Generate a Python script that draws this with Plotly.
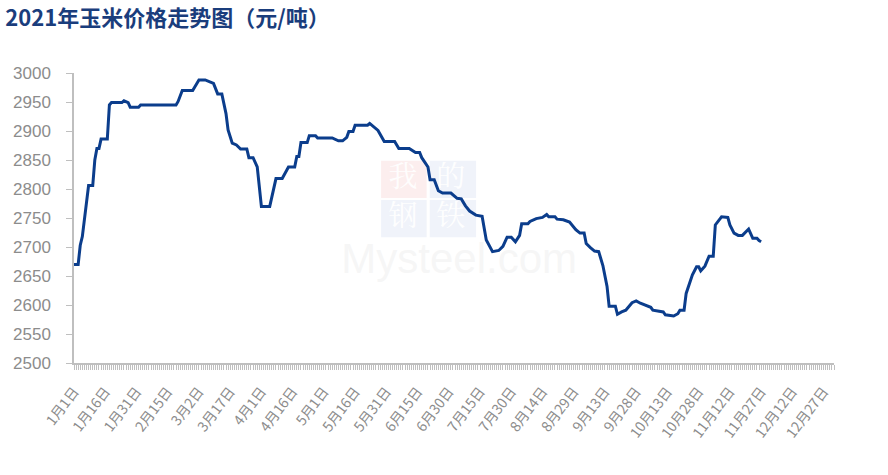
import plotly.graph_objects as go
from datetime import date, timedelta

# ---- data ----
dates = [
    "2021-01-01", "2021-01-03", "2021-01-04", "2021-01-05", "2021-01-08", "2021-01-10",
    "2021-01-11", "2021-01-12", "2021-01-13", "2021-01-14", "2021-01-17", "2021-01-18",
    "2021-01-19", "2021-01-24", "2021-01-25", "2021-01-27", "2021-01-28", "2021-02-01",
    "2021-02-02", "2021-02-19", "2021-02-20", "2021-02-22", "2021-02-27", "2021-03-01",
    "2021-03-02", "2021-03-05", "2021-03-09", "2021-03-11", "2021-03-13", "2021-03-15",
    "2021-03-16", "2021-03-18", "2021-03-20", "2021-03-22", "2021-03-25", "2021-03-26",
    "2021-03-28", "2021-03-30", "2021-03-31", "2021-04-01", "2021-04-05", "2021-04-06",
    "2021-04-08", "2021-04-11", "2021-04-13", "2021-04-14", "2021-04-17", "2021-04-18",
    "2021-04-19", "2021-04-20", "2021-04-23", "2021-04-24", "2021-04-27", "2021-04-28",
    "2021-05-05", "2021-05-08", "2021-05-10", "2021-05-12", "2021-05-13", "2021-05-15",
    "2021-05-16", "2021-05-22", "2021-05-23", "2021-05-26", "2021-05-27", "2021-05-30",
    "2021-06-04", "2021-06-06", "2021-06-11", "2021-06-14", "2021-06-16", "2021-06-17",
    "2021-06-20", "2021-06-21", "2021-06-23", "2021-06-25", "2021-06-27", "2021-07-01",
    "2021-07-04", "2021-07-06", "2021-07-08", "2021-07-10", "2021-07-13", "2021-07-16",
    "2021-07-18", "2021-07-21", "2021-07-24", "2021-07-26", "2021-07-28", "2021-07-30",
    "2021-08-01", "2021-08-03", "2021-08-04", "2021-08-07", "2021-08-08", "2021-08-11",
    "2021-08-14", "2021-08-16", "2021-08-17", "2021-08-20", "2021-08-21", "2021-08-24",
    "2021-08-26", "2021-08-27", "2021-08-30", "2021-09-01", "2021-09-03", "2021-09-04",
    "2021-09-06", "2021-09-08", "2021-09-10", "2021-09-12", "2021-09-14", "2021-09-15",
    "2021-09-18", "2021-09-19", "2021-09-21", "2021-09-23", "2021-09-26", "2021-09-28",
    "2021-09-30", "2021-10-03", "2021-10-05", "2021-10-06", "2021-10-09", "2021-10-11",
    "2021-10-12", "2021-10-16", "2021-10-18", "2021-10-19", "2021-10-21", "2021-10-22",
    "2021-10-25", "2021-10-27", "2021-10-28", "2021-10-29", "2021-10-31", "2021-11-02",
    "2021-11-04", "2021-11-05", "2021-11-08", "2021-11-11", "2021-11-12", "2021-11-14",
    "2021-11-16", "2021-11-18", "2021-11-21", "2021-11-23", "2021-11-25", "2021-11-26",
    "2021-11-27",
]
prices = [
    2670, 2670, 2703, 2718, 2806, 2806,
    2850, 2870, 2870, 2886, 2886, 2945,
    2949, 2949, 2952, 2949, 2941, 2941,
    2945, 2945, 2951, 2970, 2970, 2982,
    2988, 2988, 2982, 2964, 2964, 2930,
    2902, 2879, 2876, 2869, 2869, 2854,
    2854, 2838, 2807, 2770, 2770, 2787,
    2818, 2818, 2830, 2838, 2838, 2856,
    2856, 2880, 2880, 2892, 2892, 2888,
    2888, 2883, 2883, 2889, 2899, 2899,
    2910, 2910, 2913, 2903, 2901, 2882,
    2882, 2870, 2870, 2863, 2863, 2854,
    2838, 2816, 2816, 2797, 2793, 2793,
    2784, 2783, 2771, 2762, 2755, 2753,
    2712, 2692, 2694, 2701, 2717, 2717,
    2709, 2720, 2740, 2740, 2744, 2749,
    2751, 2756, 2752, 2752, 2748, 2747,
    2744, 2743, 2730, 2724, 2724, 2706,
    2699, 2693, 2692, 2668, 2632, 2598,
    2598, 2584, 2588, 2591, 2604, 2607,
    2603, 2598, 2596, 2591, 2589, 2588,
    2583, 2581, 2585, 2591, 2591, 2620,
    2652, 2666, 2666, 2659, 2667, 2684,
    2684, 2738, 2752, 2751, 2738, 2724,
    2720, 2720, 2731, 2715, 2715, 2711,
    2709,
]
tick_dates = [
    "2021-01-01", "2021-01-16", "2021-01-31", "2021-02-15", "2021-03-02", "2021-03-17",
    "2021-04-01", "2021-04-16", "2021-05-01", "2021-05-16", "2021-05-31", "2021-06-15",
    "2021-06-30", "2021-07-15", "2021-07-30", "2021-08-14", "2021-08-29", "2021-09-13",
    "2021-09-28", "2021-10-13", "2021-10-28", "2021-11-12", "2021-11-27", "2021-12-12",
    "2021-12-27",
]
tick_labels = [
    "1月1日", "1月16日", "1月31日", "2月15日", "3月2日", "3月17日",
    "4月1日", "4月16日", "5月1日", "5月16日", "5月31日", "6月15日",
    "6月30日", "7月15日", "7月30日", "8月14日", "8月29日", "9月13日",
    "9月28日", "10月13日", "10月28日", "11月12日", "11月27日", "12月12日",
    "12月27日",
]
y_ticks = [2500, 2550, 2600, 2650, 2700, 2750, 2800, 2850, 2900, 2950, 3000]
title_text = "2021年玉米价格走势图（元/吨）"

X_START, X_END = "2021-01-01", "2022-01-01"
Y_MIN, Y_MAX = 2500, 3000

AXIS_GREY = "#bfbfbf"
TEXT_GREY = "#8c8c8c"
LINE_BLUE = "#0b3d8c"

fig = go.Figure()

# ---- faint watermark (drawn beneath the data line) ----
d0 = date(2021, 1, 1)
def px_pos(fx, fy):
    d = d0 + timedelta(days=fx * 365)
    return d.isoformat() + "T00:00:00", Y_MIN + fy * (Y_MAX - Y_MIN)

boxes = [
    (0.404, 0.464, 0.569, 0.697, "rgba(245,200,200,0.30)", "我"),
    (0.468, 0.529, 0.569, 0.697, "rgba(205,215,238,0.30)", "的"),
    (0.404, 0.464, 0.434, 0.562, "rgba(205,215,238,0.30)", "钢"),
    (0.468, 0.529, 0.434, 0.562, "rgba(205,215,238,0.30)", "铁"),
]
wm_x, wm_y, wm_t = [], [], []
for x0, x1, y0, y1, col, ch in boxes:
    fig.add_shape(type="rect", xref="paper", yref="paper", x0=x0, x1=x1, y0=y0, y1=y1,
                  fillcolor=col, line=dict(width=0), layer="below")
    xx, yy = px_pos((x0 + x1) / 2, (y0 + y1) / 2)
    wm_x.append(xx); wm_y.append(yy); wm_t.append(ch)
fig.add_trace(go.Scatter(x=wm_x, y=wm_y, text=wm_t, mode="text", hoverinfo="skip",
                         textfont=dict(size=29, color="rgba(255,255,255,0.95)",
                                       family="Noto Serif CJK SC, Noto Sans CJK SC"),
                         showlegend=False))
mx, my = px_pos(0.507, 0.345)
fig.add_trace(go.Scatter(x=[mx], y=[my], text=["Mysteel.com"], mode="text", hoverinfo="skip",
                         textfont=dict(size=42, color="rgba(240,240,240,0.6)",
                                       family="Arial, Liberation Sans"),
                         showlegend=False))

# ---- data line ----
fig.add_trace(go.Scatter(
    x=dates, y=prices, mode="lines",
    line=dict(color=LINE_BLUE, width=3),
    showlegend=False,
))

fig.update_layout(
    width=888, height=475,
    margin=dict(l=74, r=54, t=73, b=112),
    paper_bgcolor="white", plot_bgcolor="white",
    title=dict(text="<b>" + title_text + "</b>", x=0.006, xanchor="left",
               y=0.962, yanchor="middle",
               font=dict(size=22, color="#1a3d7c", family="Noto Sans CJK SC")),
    font=dict(family="Liberation Sans, Arial, Noto Sans CJK SC"),
)
fig.update_xaxes(
    type="date", range=[X_START, X_END],
    tickmode="array", tickvals=tick_dates, ticktext=tick_labels, tickangle=-53,
    tickfont=dict(size=14, color=TEXT_GREY, family="Noto Sans CJK SC"),
    ticklabelstandoff=8,
    showline=True, linecolor=AXIS_GREY, linewidth=1.5,
    ticks="outside", ticklen=5, tickcolor=AXIS_GREY,
    minor=dict(ticks="outside", ticklen=5, tickcolor=AXIS_GREY, dtick=86400000,
               tick0="2021-01-01", showgrid=False),
    showgrid=False, zeroline=False,
)
fig.update_yaxes(
    range=[Y_MIN, Y_MAX], tickmode="array", tickvals=y_ticks,
    tickfont=dict(size=17, color=TEXT_GREY, family="Liberation Sans, Arial"),
    ticklabelstandoff=12,
    showline=True, linecolor=AXIS_GREY, linewidth=1.5,
    ticks="outside", ticklen=6, tickcolor=AXIS_GREY,
    showgrid=False, zeroline=False,
)

fig.write_html("out.html", config={"displayModeBar": False},
               post_script="document.body.style.margin='0';")
